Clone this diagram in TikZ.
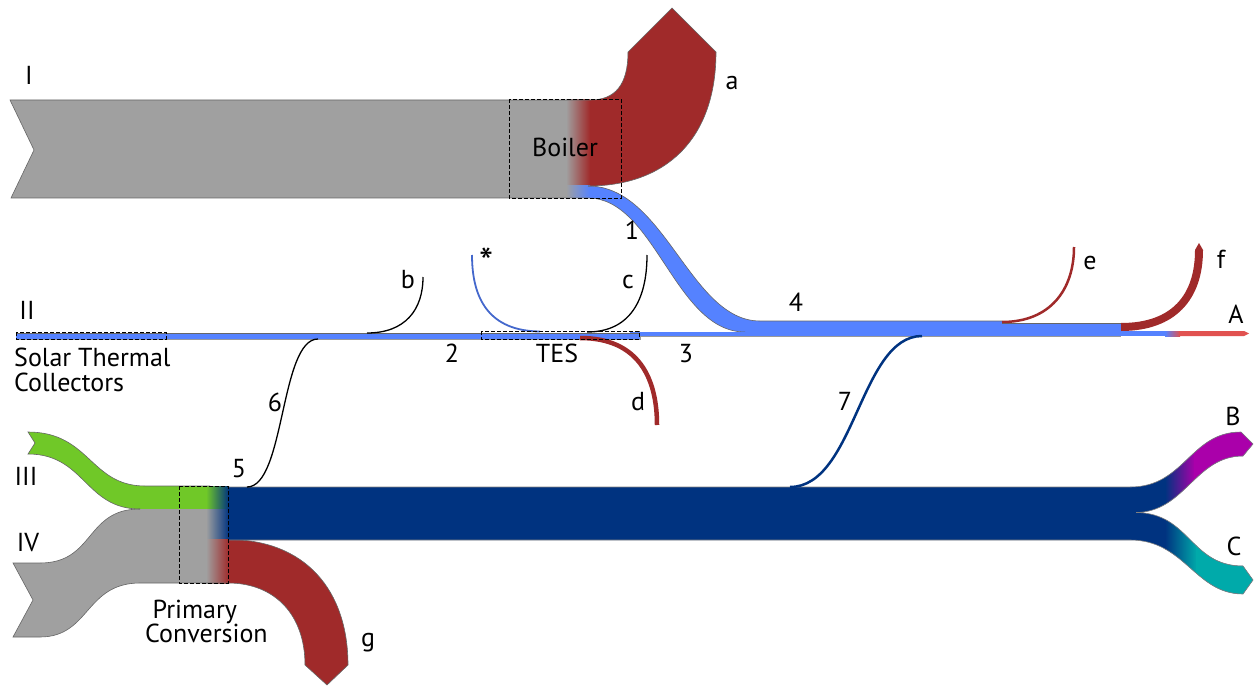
\documentclass[tikz,border=0pt]{standalone}
\usepackage{fontspec}
\setmainfont{PT Sans}
\definecolor{fgray}{RGB}{160,160,160}
\definecolor{fred}{RGB}{160,42,42}
\definecolor{fblue}{RGB}{85,130,255}
\definecolor{fnavy}{RGB}{0,51,128}
\definecolor{fgreen}{RGB}{112,200,40}
\definecolor{fmag}{RGB}{170,0,170}
\definecolor{fteal}{RGB}{0,170,170}
\definecolor{flred}{RGB}{225,82,80}
\begin{document}
\begin{tikzpicture}[x=1pt,y=-1pt,
  lab/.style={font=\fontsize{26}{23}\selectfont, inner sep=0pt, anchor=base},
  multilab/.style={font=\fontsize{26}{23}\selectfont, inner sep=0pt, anchor=north west, align=left},
  edgeline/.style={draw=black!60, line width=0.6pt},
  dbox/.style={draw=black, dash pattern=on 4pt off 2pt, line width=0.9pt},
  thinflow/.style={line width=1.3pt}]
\useasboundingbox (0,0) rectangle (1255,687);

% ---------- Flow I and boiler ----------
\fill[fgray] (10,100) -- (572,100) -- (572,198) -- (11,198) -- (34,150) -- cycle;
\fill[fred] (588,100) -- (590,100) .. controls (615,100) and (628,85) .. (628,52)
  -- (672,8) -- (716,52) .. controls (716,140) and (665,186) .. (588,186) -- cycle;
% flow 1 + 4
\fill[fblue] (588,186) .. controls (665,186) and (690,321) .. (760,321) -- (1002,321)
  -- (1002,323) -- (1121,323) -- (1121,332) -- (745,332)
  .. controls (675,332) and (655,198) .. (588,198) -- cycle;
\shade[left color=fgray, right color=fred] (566,100) rectangle (590,186);
\shade[left color=fgray, right color=fblue] (566,186) rectangle (590,198);
\draw[edgeline] (588,186) .. controls (665,186) and (716,140) .. (716,52) -- (672,8) -- (628,52)
  .. controls (628,85) and (615,100) .. (590,100) -- (10,100) -- (34,150) -- (11,198) -- (588,198)
  .. controls (655,198) and (675,332) .. (745,332);
\draw[edgeline] (588,186) .. controls (665,186) and (690,321) .. (760,321) -- (1002,321);
\draw[edgeline] (1002,323) -- (1121,323);

% ---------- thin line II / 2 / 3 ----------
\fill[fblue] (16,333) rectangle (640,339);
\fill[fblue] (630,332) rectangle (1121,336);
\draw[edgeline] (16,333) -- (640,333);
\draw[edgeline, draw=black!40] (16,339) -- (640,339) -- (640,336) -- (1121,336);

% ---------- A ----------
\fill[fblue] (1121,331) rectangle (1166,336);
\shade[left color=fblue, right color=flred] (1165,331) rectangle (1180,336);
\fill[flred] (1179,331) -- (1244,331) -- (1249,333.5) -- (1244,336) -- (1179,336) -- cycle;

% ---------- f, e ----------
\fill[fred] (1121,323) .. controls (1172,323) and (1195,295) .. (1195,250) -- (1199,243) -- (1203,250)
  .. controls (1203,300) and (1175,331) .. (1121,331) -- cycle;
\draw[fred, line width=2.5pt] (1002,322) .. controls (1050,322) and (1074,290) .. (1074,247);

% ---------- d, *, c, b ----------
\draw[fred, line width=4.5pt] (580,338) .. controls (640,338) and (657,380) .. (657,425);
\draw[fblue!80!black, line width=1.8pt] (472,255) .. controls (472,300) and (490,331) .. (540,331.5);
\draw[black, thinflow] (587,332) .. controls (630,332) and (647,300) .. (647,255);
\draw[black, thinflow] (367,333) .. controls (405,333) and (423,310) .. (423,277);

% ---------- III, IV, primary conversion ----------
\fill[fgreen] (28,432) .. controls (90,432) and (90,486) .. (145,486) -- (210,486) -- (210,509)
  -- (140,509) .. controls (85,509) and (85,454) .. (28,454) -- (35,443) -- cycle;
\fill[fgray] (140,509) -- (210,509) -- (210,583) -- (140,583) .. controls (85,583) and (90,637) .. (40,637)
  -- (13,637) -- (33,600) -- (13,563) -- (40,563) .. controls (95,563) and (85,509) .. (140,509) -- cycle;
\fill[fred] (228,539.5) .. controls (305,539.5) and (348,590) .. (348,665) -- (327,685) -- (305,665)
  .. controls (305,615) and (275,583) .. (228,583) -- cycle;
\shade[left color=fgreen, right color=fnavy] (206,486) rectangle (229,509);
\shade[left color=fgray, right color=fnavy] (206,509) rectangle (229,539.5);
\shade[left color=fgray, right color=fred] (206,539.5) rectangle (229,583);
\draw[edgeline] (210,486) -- (145,486) .. controls (90,486) and (90,432) .. (28,432) -- (35,443) -- (28,454)
  .. controls (85,454) and (85,509) .. (140,509);
\draw[edgeline] (140,509) .. controls (85,509) and (95,563) .. (40,563) -- (13,563) -- (33,600) -- (13,637)
  -- (40,637) .. controls (90,637) and (85,583) .. (140,583) -- (228,583)
  .. controls (275,583) and (305,615) .. (305,665) -- (327,685) -- (348,665)
  .. controls (348,590) and (305,539.5) .. (228,539.5);

% ---------- navy band with B and C ----------
\fill[fnavy] (228,487) -- (1130,487) .. controls (1185,487) and (1190,432) .. (1241,432) -- (1253,444) -- (1243,456)
  .. controls (1195,456) and (1185,512) .. (1136,512.5) .. controls (1190,513) and (1190,566) .. (1243,566)
  -- (1253,580) -- (1243,594) .. controls (1195,594) and (1185,540) .. (1130,540) -- (228,540) -- cycle;
\begin{scope}
  \clip (1120,487) -- (1130,487) .. controls (1185,487) and (1190,432) .. (1241,432) -- (1253,444) -- (1243,456)
    .. controls (1195,456) and (1185,512) .. (1136,512.5) -- (1120,512.5) -- cycle;
  \shade[left color=fnavy, right color=fmag] (1165,420) rectangle (1195,520);
  \fill[fmag] (1194,420) rectangle (1260,520);
\end{scope}
\begin{scope}
  \clip (1120,512.5) -- (1136,512.5) .. controls (1190,513) and (1190,566) .. (1243,566)
    -- (1253,580) -- (1243,594) .. controls (1195,594) and (1185,540) .. (1130,540) -- (1120,540) -- cycle;
  \shade[left color=fnavy, right color=fteal] (1165,505) rectangle (1197,600);
  \fill[fteal] (1196,505) rectangle (1260,600);
\end{scope}
\draw[edgeline, draw=black!50] (228,487) -- (1130,487) .. controls (1185,487) and (1190,432) .. (1241,432) -- (1253,444) -- (1243,456)
  .. controls (1195,456) and (1185,512) .. (1136,512.5) .. controls (1190,513) and (1190,566) .. (1243,566)
  -- (1253,580) -- (1243,594) .. controls (1195,594) and (1185,540) .. (1130,540) -- (228,540);

% ---------- connector flows 6 and 7 ----------
\draw[black, thinflow] (247,487) .. controls (285,487) and (280,339) .. (318,339);
\draw[fnavy, line width=2.5pt] (790,487) .. controls (855,487) and (860,336) .. (922,336);

% ---------- dashed boxes ----------
\draw[dbox] (509,99) rectangle (621,198);
\draw[dbox] (16,332) rectangle (166,339);
\draw[dbox] (481,331) rectangle (639,339);
\draw[dbox] (179,486) rectangle (228,583);

% ---------- labels ----------
\node[lab] (lI) at (29,85) {I};
\node[lab] (la) at (732,90) {a};
\node[lab] (lboiler) at (565,157) {Boiler};
\node[lab] (l1) at (632,240) {1};
\node[lab] (lII) at (27,319) {II};
\node[lab] (lb) at (408,288) {b};
\node[lab, font=\fontsize{40}{40}\selectfont] (lstar) at (487,276) {*};
\node[lab] (lc) at (628,288) {c};
\node[lab] (l2) at (452,362) {2};
\node[lab] (ltes) at (557,362) {TES};
\node[lab] (l3) at (686,362) {3};
\node[lab] (ld) at (638,410) {d};
\node[lab] (l4) at (796,311) {4};
\node[lab] (le) at (1090,269) {e};
\node[lab] (lf) at (1221,268) {f};
\node[lab] (lA) at (1236,323) {A};
\node[multilab, font=\fontsize{26}{25}\selectfont] (lsolar) at (14,347.5) {Solar Thermal\\Collectors};
\node[lab] (l6) at (275,411) {6};
\node[lab] (l5) at (239,477) {5};
\node[lab] (l7) at (845,410) {7};
\node[lab] (lIII) at (26,485) {III};
\node[lab] (lIV) at (28,551) {IV};
\node[multilab] (lprim) at (145,599.5) {\hspace*{7.5pt}Primary\\Conversion};
\node[lab] (lg) at (368,646) {g};
\node[lab] (lB) at (1233,425) {B};
\node[lab] (lC) at (1234,555) {C};
\end{tikzpicture}
\end{document}
